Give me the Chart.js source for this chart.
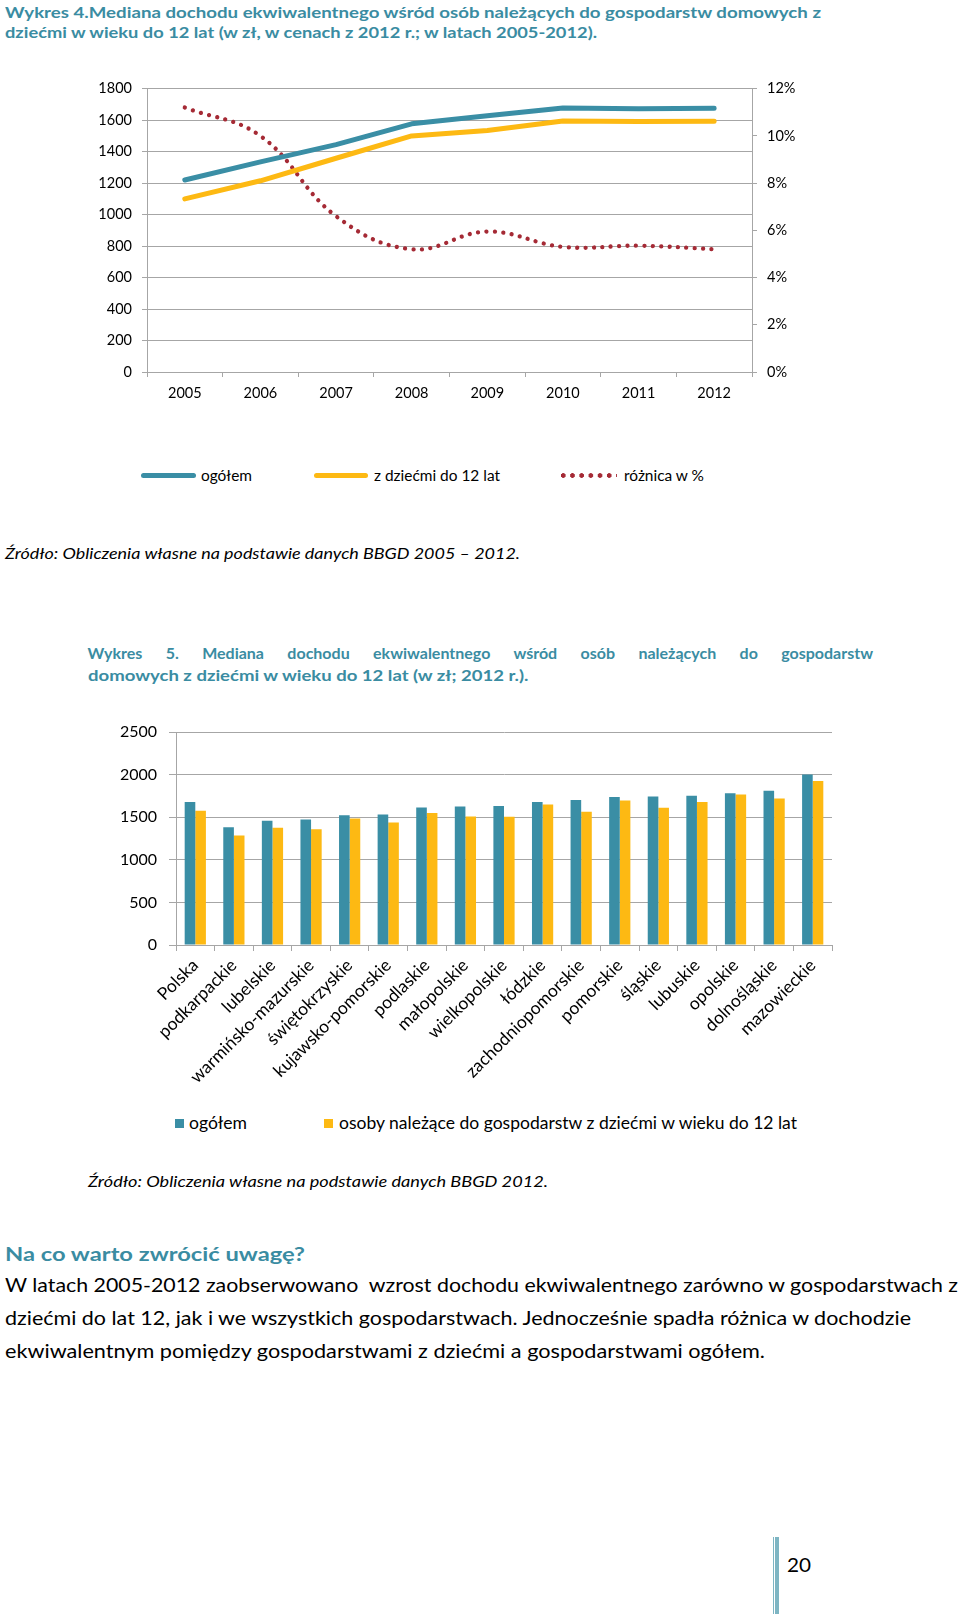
<!DOCTYPE html>
<html><head><meta charset="utf-8">
<script src="https://cdn.jsdelivr.net/npm/chart.js@4.4.1/dist/chart.umd.min.js"></script>
<style>
html,body{margin:0;padding:0;background:#fff;}
#page{position:relative;width:960px;height:1614px;overflow:hidden;font-family:Lato,'Liberation Sans',sans-serif;color:#000;}
.t{position:absolute;white-space:pre;transform-origin:0 50%;}
.title{color:#3A8CA2;font-weight:700;font-size:16px;line-height:20px;}
.src{font-style:italic;font-size:16px;line-height:20px;}
.para{font-size:20px;line-height:26px;}
.leg{font-size:15.5px;line-height:20px;}
.cv{position:absolute;left:0;}
</style></head>
<body><div id="page">

<div class="t title" style="left:5px;top:2px" data-w="816">Wykres 4.Mediana dochodu ekwiwalentnego wśród osób należących do gospodarstw domowych z</div>
<div class="t title" style="left:5px;top:22px" data-w="592">dziećmi w wieku do 12 lat (w zł, w cenach z 2012 r.; w latach 2005-2012).</div>

<canvas id="c1" class="cv" width="960" height="350" style="top:70px;width:960px;height:350px"></canvas>

<div style="position:absolute;left:141px;top:472.5px;width:55px;height:5px;border-radius:3px;background:#3A8EA5"></div>
<div class="t leg" style="left:201px;top:465px" data-w="51">ogółem</div>
<div style="position:absolute;left:314px;top:472.5px;width:54px;height:5px;border-radius:3px;background:#FDB913"></div>
<div class="t leg" style="left:374px;top:465px" data-w="126">z dziećmi do 12 lat</div>
<div id="dots" style="position:absolute;left:561px;top:473px;width:56px;height:5px;background:radial-gradient(circle at 2.25px 2.5px,#A52A35 2.1px,transparent 2.5px) 0 0/9.2px 5px repeat-x"></div>
<div class="t leg" style="left:624px;top:465px" data-w="80">różnica w %</div>

<div class="t src" style="left:5px;top:543px" data-w="515">Źródło: Obliczenia własne na podstawie danych BBGD 2005 – 2012.</div>

<div class="t title" style="left:87.5px;top:643px" data-ws="785.5">Wykres 5. Mediana dochodu ekwiwalentnego wśród osób należących do gospodarstw</div>
<div class="t title" style="left:87.5px;top:665px" data-w="440.5">domowych z dziećmi w wieku do 12 lat (w zł; 2012 r.).</div>

<canvas id="c2" class="cv" width="960" height="400" style="top:700px;width:960px;height:400px"></canvas>

<div style="position:absolute;left:175px;top:1118.5px;width:9px;height:9px;background:#3A8EA5"></div>
<div class="t leg" style="left:189px;top:1113px;font-size:16.5px" data-w="58">ogółem</div>
<div style="position:absolute;left:324px;top:1118.5px;width:9px;height:9px;background:#FDB913"></div>
<div class="t leg" style="left:338.5px;top:1113px;font-size:16.5px" data-w="458">osoby należące do gospodarstw z dziećmi w wieku do 12 lat</div>

<div class="t src" style="left:87.5px;top:1171px" data-w="460">Źródło: Obliczenia własne na podstawie danych BBGD 2012.</div>

<div class="t title" style="left:5px;top:1242px;font-size:19px;line-height:24px" data-w="300">Na co warto zwrócić uwagę?</div>
<div class="t para" style="left:5px;top:1271px" data-w="953">W latach 2005-2012 zaobserwowano  wzrost dochodu ekwiwalentnego zarówno w gospodarstwach z</div>
<div class="t para" style="left:5px;top:1304px" data-w="906">dziećmi do lat 12, jak i we wszystkich gospodarstwach. Jednocześnie spadła różnica w dochodzie</div>
<div class="t para" style="left:5px;top:1337px" data-w="760">ekwiwalentnym pomiędzy gospodarstwami z dziećmi a gospodarstwami ogółem.</div>

<div style="position:absolute;left:773px;top:1537px;width:6px;height:77px;background:linear-gradient(90deg,#7DB5C3 0 1.5px,#fff 1.5px 2.25px,#7DB5C3 2.25px 3.75px,#fff 3.75px 4.5px,#7DB5C3 4.5px 6px)"></div>
<div class="t" style="left:787px;top:1552px;font-size:20px;line-height:24px" data-w="24">20</div>

</div>
<script>
// ---- Data: Wykres 4 ----
const years = ['2005','2006','2007','2008','2009','2010','2011','2012'];
const ogolem = [1220, 1335, 1445, 1577, 1628, 1677, 1673, 1675];
const zDziecmi = [1100, 1215, 1358, 1500, 1535, 1595, 1591, 1593];
const roznica = [11.2, 10.0, 6.6, 5.2, 5.95, 5.3, 5.35, 5.2];
const leftTicks1 = [0, 200, 400, 600, 800, 1000, 1200, 1400, 1600, 1800];
const rightTicks1 = [0, 2, 4, 6, 8, 10, 12];

// ---- Data: Wykres 5 ----
const regions = ['Polska','podkarpackie','lubelskie','warmińsko-mazurskie','świętokrzyskie','kujawsko-pomorskie','podlaskie','małopolskie','wielkopolskie','łódzkie','zachodniopomorskie','pomorskie','śląskie','lubuskie','opolskie','dolnośląskie','mazowieckie'];
const ogolem2 = [1677, 1383, 1458, 1473, 1524, 1532, 1614, 1626, 1630, 1677, 1701, 1736, 1744, 1752, 1780, 1811, 2000];
const dzieci2 = [1575, 1285, 1375, 1360, 1485, 1438, 1548, 1509, 1505, 1650, 1563, 1697, 1611, 1679, 1765, 1719, 1925];
const ticks2 = [0, 500, 1000, 1500, 2000, 2500];

const BLUE = '#3A8EA5', YEL = '#FDB913', RED = '#A52A35', GRID = '#A6A6A6';
Chart.defaults.font.family = "Lato, 'Liberation Sans', sans-serif";
Chart.defaults.color = '#000';
const plain = v => String(v);

new Chart(document.getElementById('c1'), {
  type: 'line',
  data: { labels: years, datasets: [
    { label: 'ogółem', data: ogolem, borderColor: BLUE, borderWidth: 5, pointRadius: 0, tension: 0, borderCapStyle: 'round', borderJoinStyle: 'round', yAxisID: 'y' },
    { label: 'z dziećmi do 12 lat', data: zDziecmi, borderColor: YEL, borderWidth: 5, pointRadius: 0, tension: 0, borderCapStyle: 'round', borderJoinStyle: 'round', yAxisID: 'y' },
    { label: 'różnica w %', data: roznica, borderColor: RED, borderWidth: 4.3, borderDash: [0.01, 8.4], borderCapStyle: 'round', pointRadius: 0, tension: 0.4, yAxisID: 'y2' }
  ]},
  options: {
    responsive: false, animation: false, devicePixelRatio: 1,
    layout: { padding: { top: 14, left: 0, right: 0, bottom: 0 } },
    plugins: { legend: { display: false }, tooltip: { enabled: false } },
    scales: {
      x: { offset: true, grid: { offset: true, drawOnChartArea: false, tickLength: 5, color: GRID }, border: { color: GRID },
           ticks: { padding: 8, font: { size: 14.5 } }, afterFit(s) { s.height = 48; } },
      y: { position: 'left', min: leftTicks1[0], max: leftTicks1[leftTicks1.length-1],
           ticks: { stepSize: leftTicks1[1]-leftTicks1[0], padding: 10, font: { size: 14.5 }, callback: plain },
           grid: { color: GRID, tickLength: 5 }, border: { color: GRID }, afterFit(s) { s.width = 147; } },
      y2: { position: 'right', min: rightTicks1[0], max: rightTicks1[rightTicks1.length-1],
           ticks: { stepSize: rightTicks1[1]-rightTicks1[0], padding: 10, font: { size: 14.5 }, callback: v => v + '%' },
           grid: { drawOnChartArea: false, color: GRID, tickLength: 5 }, border: { color: GRID }, afterFit(s) { s.width = 208; } }
    }
  }
});

new Chart(document.getElementById('c2'), {
  type: 'bar',
  data: { labels: regions, datasets: [
    { label: 'ogółem', data: ogolem2, backgroundColor: BLUE, categoryPercentage: 0.55, barPercentage: 1 },
    { label: 'osoby należące do gospodarstw z dziećmi w wieku do 12 lat', data: dzieci2, backgroundColor: YEL, categoryPercentage: 0.55, barPercentage: 1 }
  ]},
  options: {
    responsive: false, animation: false, devicePixelRatio: 1,
    layout: { padding: { top: 32, left: 0, right: 128, bottom: 0 } },
    plugins: { legend: { display: false }, tooltip: { enabled: false } },
    scales: {
      x: { grid: { offset: true, drawOnChartArea: false, tickLength: 6, color: GRID }, border: { color: GRID },
           ticks: { minRotation: 45, maxRotation: 45, autoSkip: false, padding: 4, font: { size: 17.5 } },
           afterFit(s) { s.height = 155; } },
      y: { min: ticks2[0], max: ticks2[ticks2.length-1],
           ticks: { stepSize: ticks2[1]-ticks2[0], padding: 12, font: { size: 16 }, callback: plain },
           grid: { color: GRID, tickLength: 7 }, border: { color: GRID }, afterFit(s) { s.width = 176; } }
    }
  }
});

function fit() {
  document.querySelectorAll('[data-w]').forEach(el => {
    el.style.transform = 'none';
    const n = el.getBoundingClientRect().width;
    el.style.transform = 'scaleX(' + (+el.dataset.w / n) + ')';
  });
  document.querySelectorAll('[data-ws]').forEach(el => {
    el.style.wordSpacing = '0px';
    const n = el.getBoundingClientRect().width;
    const sp = (el.textContent.match(/ /g) || []).length;
    el.style.wordSpacing = ((+el.dataset.ws - n) / sp) + 'px';
  });
}
fit();
if (document.fonts) document.fonts.ready.then(fit);
</script>
</body></html>
